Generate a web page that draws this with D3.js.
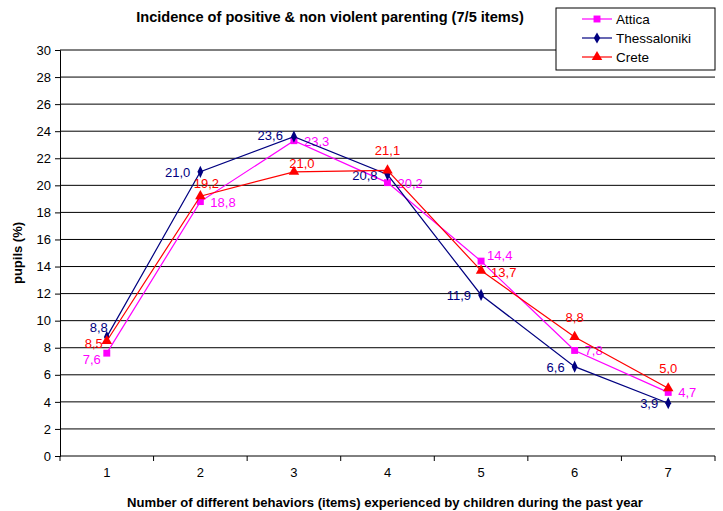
<!DOCTYPE html>
<html>
<head>
<meta charset="utf-8">
<script src="https://cdn.jsdelivr.net/npm/d3@7"></script>
<style>
  body { margin: 0; background: #fff; }
  svg { display: block; font-family: Arial, "Liberation Sans", sans-serif; }
</style>
</head>
<body>
<div id="chart"></div>
<script>
var width = 723;
var height = 511;

// data
var categories = ['1', '2', '3', '4', '5', '6', '7'];
var attica = [7.6, 18.8, 23.3, 20.2, 14.4, 7.8, 4.7];
var thessaloniki = [8.8, 21.0, 23.6, 20.8, 11.9, 6.6, 3.9];
var crete = [8.5, 19.2, 21.0, 21.1, 13.7, 8.8, 5.0];
var yTicks = [0, 2, 4, 6, 8, 10, 12, 14, 16, 18, 20, 22, 24, 26, 28, 30];

var title = 'Incidence of positive & non violent parenting (7/5 items)';
var xTitle = 'Number of different behaviors (items) experienced by children during the past year';
var yTitle = 'pupils (%)';

var series = [
    { name: 'Attica', values: attica, color: '#FF00FF', shape: d3.symbolSquare, size: 48,
      label: { anchor: 'start', dx: 10, dy: 5 },
      // a few labels were moved by hand in the original
      moved: { 0: { anchor: 'end', dx: -6, dy: 11 }, 4: { anchor: 'start', dx: 6, dy: -1 } } },
    { name: 'Thessaloniki', values: thessaloniki, color: '#000080', shape: d3.symbolDiamond, size: 36,
      label: { anchor: 'end', dx: -10, dy: 5 },
      moved: { 0: { anchor: 'end', dx: 1, dy: -5 }, 2: { anchor: 'end', dx: -11, dy: 3 } } },
    { name: 'Crete', values: crete, color: '#FF0000', shape: d3.symbolTriangle, size: 48,
      label: { anchor: 'middle', dx: 0, dy: -15 },
      moved: { 0: { anchor: 'end', dx: -4, dy: 7 }, 1: { anchor: 'middle', dx: 6, dy: -8 },
               2: { anchor: 'middle', dx: 8, dy: -4 }, 4: { anchor: 'start', dx: 10, dy: 6 } } }
];

var margin = { left: 60, right: 8, top: 50, bottom: 55 };

var svg = d3.select('#chart')
    .append('svg')
    .attr('width', width)
    .attr('height', height);

var x = d3.scaleBand()
    .domain(categories)
    .range([margin.left, width - margin.right]);

var y = d3.scaleLinear()
    .domain([0, 30])
    .range([height - margin.bottom, margin.top]);

var cx = function (c) { return x(c) + x.bandwidth() / 2; };

// grid lines
svg.append('g')
    .selectAll('line')
    .data(yTicks.filter(function (d) { return d > 0; }))
    .enter()
    .append('line')
    .attr('x1', margin.left)
    .attr('x2', width - margin.right)
    .attr('y1', function (d) { return y(d); })
    .attr('y2', function (d) { return y(d); })
    .attr('stroke', '#000')
    .attr('stroke-width', 1);

// y axis
var yAxis = svg.append('g')
    .attr('transform', 'translate(' + margin.left + ',0)')
    .call(d3.axisLeft(y).tickValues(yTicks).tickSize(5).tickPadding(4));
yAxis.select('.domain').attr('stroke', '#000');
yAxis.selectAll('text').attr('font-size', 13).attr('font-family', 'Arial, "Liberation Sans", sans-serif').attr('fill', '#000');

// x axis: ticks between the categories
var xAxis = svg.append('g');
xAxis.append('line')
    .attr('x1', margin.left)
    .attr('x2', width - margin.right)
    .attr('y1', y(0))
    .attr('y2', y(0))
    .attr('stroke', '#000');
xAxis.selectAll('line.tick')
    .data(categories.concat(['end']))
    .enter()
    .append('line')
    .attr('class', 'tick')
    .attr('x1', function (d, i) { return margin.left + i * x.step(); })
    .attr('x2', function (d, i) { return margin.left + i * x.step(); })
    .attr('y1', y(0))
    .attr('y2', y(0) + 5)
    .attr('stroke', '#000');
xAxis.selectAll('text')
    .data(categories)
    .enter()
    .append('text')
    .attr('x', cx)
    .attr('y', y(0) + 21)
    .attr('text-anchor', 'middle')
    .attr('font-size', 13)
    .text(function (d) { return d; });

// lines, markers and labels
var line = d3.line()
    .x(function (d, i) { return cx(categories[i]); })
    .y(function (d) { return y(d); });

series.forEach(function (s) {
    var g = svg.append('g');
    g.append('path')
        .datum(s.values)
        .attr('d', line)
        .attr('fill', 'none')
        .attr('stroke', s.color)
        .attr('stroke-width', 1.2);
    g.selectAll('path.mark')
        .data(s.values)
        .enter()
        .append('path')
        .attr('class', 'mark')
        .attr('d', d3.symbol().type(s.shape).size(s.size))
        .attr('transform', function (d, i) {
            var sy = s.shape === d3.symbolDiamond ? ' scale(0.9,1.1)' : '';
            return 'translate(' + cx(categories[i]) + ',' + y(d) + ')' + sy;
        })
        .attr('fill', s.color);
    g.selectAll('text')
        .data(s.values)
        .enter()
        .append('text')
        .each(function (d, i) {
            var p = s.moved[i] || s.label;
            d3.select(this)
                .attr('x', cx(categories[i]) + p.dx)
                .attr('y', y(d) + p.dy)
                .attr('text-anchor', p.anchor);
        })
        .attr('font-size', 13)
        .attr('fill', s.color)
        .text(function (d) { return d.toFixed(1).replace('.', ','); });
});

// titles
svg.append('text')
    .attr('x', 330)
    .attr('y', 22)
    .attr('text-anchor', 'middle')
    .attr('font-size', 14.6)
    .attr('font-weight', 'bold')
    .text(title);

svg.append('text')
    .attr('x', 385)
    .attr('y', 507)
    .attr('text-anchor', 'middle')
    .attr('font-size', 13.1)
    .attr('font-weight', 'bold')
    .text(xTitle);

svg.append('text')
    .attr('transform', 'translate(22,' + y(15) + ') rotate(-90)')
    .attr('text-anchor', 'middle')
    .attr('font-size', 13)
    .attr('font-weight', 'bold')
    .text(yTitle);

// legend
var legend = svg.append('g').attr('transform', 'translate(556,8)');
legend.append('rect')
    .attr('width', 159)
    .attr('height', 62)
    .attr('fill', '#fff')
    .attr('stroke', '#000');
var item = legend.selectAll('g.item')
    .data(series)
    .enter()
    .append('g')
    .attr('class', 'item')
    .attr('transform', function (d, i) { return 'translate(0,' + (11 + i * 19) + ')'; });
item.append('line')
    .attr('x1', 26)
    .attr('x2', 56)
    .attr('stroke', function (d) { return d.color; })
    .attr('stroke-width', 1.2);
item.append('path')
    .attr('d', function (d) { return d3.symbol().type(d.shape).size(d.size)(); })
    .attr('transform', 'translate(41,0)')
    .attr('fill', function (d) { return d.color; });
item.append('text')
    .attr('x', 60)
    .attr('y', 5)
    .attr('font-size', 13.5)
    .text(function (d) { return d.name; });
</script>
</body>
</html>
